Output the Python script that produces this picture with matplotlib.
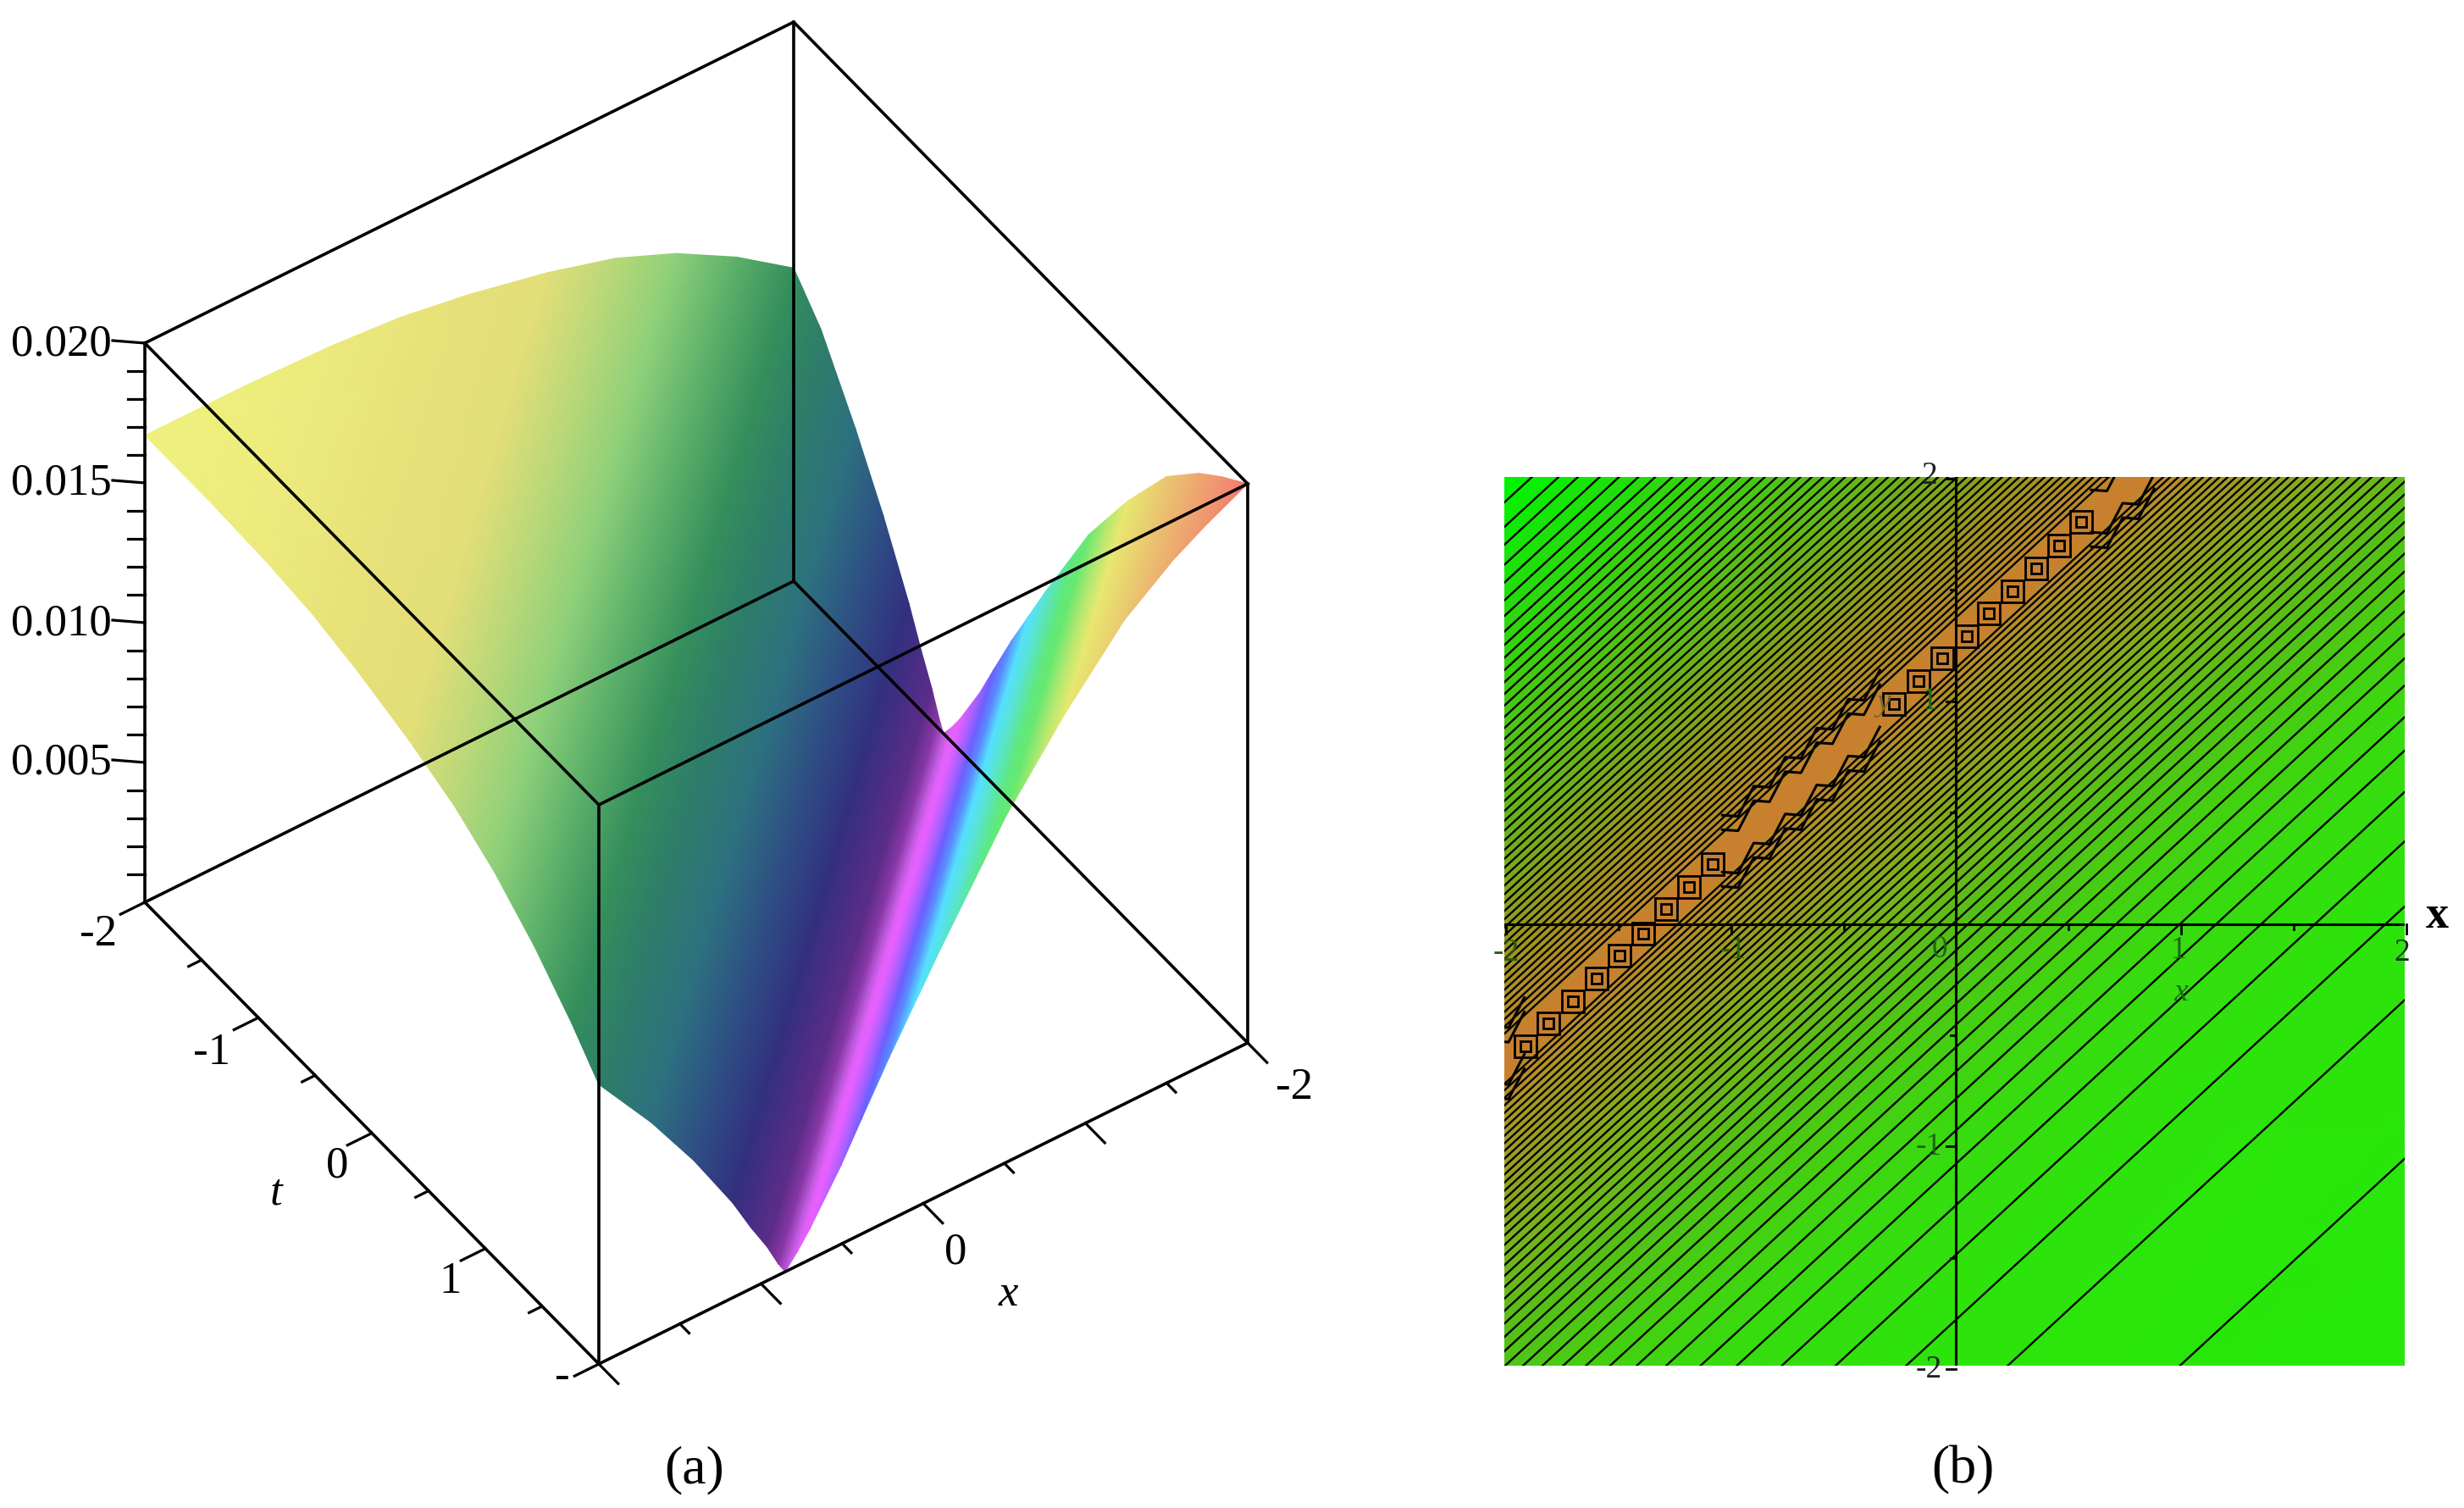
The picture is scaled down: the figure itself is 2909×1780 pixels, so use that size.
import matplotlib
matplotlib.use('Agg')
import matplotlib.pyplot as plt
import numpy as np
from matplotlib.colors import ListedColormap

plt.rcParams['font.family'] = ['Liberation Serif', 'DejaVu Serif']

# (a) surface, read across the valley line t = 0.94 x + 1.2
valley_slope = 0.94
valley_c = 1.2
surf_d = [-5.08, -4.5, -4.0, -3.6, -3.2, -2.75, -2.35, -2.0, -1.65, -1.32, -1.08, -0.775, -0.53, -0.305, -0.2, -0.104, -0.04,
          0.0, 0.07, 0.143, 0.322, 0.441, 0.6, 0.74, 0.9, 1.143, 1.28, 1.45, 1.62, 1.964, 2.25, 2.45, 2.68]
surf_z = [0.0167, 0.0167, 0.0166, 0.0164, 0.0160, 0.0154, 0.0147, 0.0138, 0.0126, 0.0112, 0.0100, 0.0077, 0.0056, 0.0034, 0.0022, 0.0012, 0.0004,
          0.0, 0.0005, 0.0011, 0.0028, 0.0041, 0.0058, 0.0072, 0.0088, 0.0111, 0.0124, 0.0137, 0.0150, 0.0173, 0.0186, 0.0193, 0.0200]
surf_col = ['#f0f07e', '#eeee7d', '#ecea7c', '#e9e57a', '#e6e078', '#e2de78', '#b8d878', '#8ed07a', '#5cb06a', '#358f5c', '#2e7f68', '#2d7080',
            '#2e4f84', '#33307f', '#4a2d86', '#5c2d88', '#8a38a8',
            '#b858d8', '#e060f8', '#e860ff', '#a060ff', '#6a60ff', '#5a90ff', '#55e0ff', '#58e4d8', '#60e880', '#68e870',
            '#b0e870', '#e8e870', '#eac870', '#eea870', '#f09470', '#f07870']

z_major = [0.005, 0.010, 0.015, 0.020]
z_labels = ['0.005', '0.010', '0.015', '0.020']
z_minor = [0.001, 0.002, 0.003, 0.004, 0.006, 0.007, 0.008, 0.009, 0.011, 0.012, 0.013, 0.014, 0.016, 0.017, 0.018, 0.019]
t_major = [-2, -1, 0, 1, 2]
t_minor = [-1.5, -0.5, 0.5, 1.5]
x_major = [-2, -1, 0, 1, 2]
x_minor = [-1.5, -0.5, 0.5, 1.5]

# (b) contour plot, lines y = slope x + c
contour_slope = 0.93
contour_low = [-2.908, -2.196, -1.776, -1.484, -1.262, -1.076, -0.926, -0.784, -0.662, -0.552, -0.452, -0.358, -0.272,
               -0.192, -0.118, -0.05, 0.014, 0.074, 0.131, 0.186, 0.238, 0.288, 0.336, 0.382, 0.427, 0.470, 0.512,
               0.553, 0.593, 0.632, 0.670, 0.707, 0.743, 0.779, 0.814, 0.849, 0.883, 0.917, 0.951, 0.985, 1.019,
               1.053, 1.087, 1.121, 1.15]
contour_high = [1.375, 1.407, 1.44, 1.473, 1.506, 1.539, 1.572, 1.606, 1.64, 1.675, 1.71, 1.745, 1.78, 1.816, 1.852,
                1.889, 1.926, 1.963, 2.001, 2.04, 2.08, 2.12, 2.16, 2.2, 2.243, 2.287, 2.331, 2.375, 2.42, 2.465, 2.51,
                2.556, 2.603, 2.65, 2.698, 2.747, 2.797, 2.848, 2.9, 2.953, 3.007, 3.063, 3.12, 3.18, 3.25, 3.32,
                3.40, 3.48, 3.57, 3.65, 3.76]
bg_c = [-5.0, -3.86, -1.8, -1.0, -0.5, 0.0, 0.4, 0.73, 1.0, 1.15, 1.2, 1.32, 1.38, 1.7, 2.2, 2.8, 3.3, 3.86, 5.0]
bg_col = ['#27e90a', '#27e90a', '#2de40b', '#38dc10', '#45d012', '#55c018', '#78b41c', '#98a020', '#ac9824', '#bf8a2a',
          '#c8802e', '#c8802e', '#bd8a2a', '#a0961f', '#6fb01a', '#48c814', '#25dc0c', '#00f500', '#00f500']

ring_x = [-1.915, -1.814, -1.704, -1.599, -1.497, -1.392, -1.29, -1.188, -1.083,
          -0.277, -0.168, -0.062, 0.047, 0.145, 0.25, 0.356, 0.458, 0.556]
ring_y = [-0.549, -0.447, -0.348, -0.245, -0.143, -0.044, 0.067, 0.165, 0.268,
          0.987, 1.089, 1.192, 1.291, 1.394, 1.492, 1.595, 1.698, 1.804]
zig_x1 = [-1.04, -0.97, -0.90, -0.83, -0.76, -0.69, -0.62, -0.55, -0.48, -0.41, -0.34]
zig_x2 = [0.60, 0.67, 0.74, 0.81, 0.88]
zig_x3 = [-2.06, -1.99, -1.92]
zig_off = [0.035, -0.035]
zig_pairs = [-0.16, -0.095, 0.095, 0.16]
ridge_c = 1.26


def clip_line(slope, c, lo=-2.0, hi=2.0):
    x0 = max(lo, (lo - c) / slope)
    x1 = min(hi, (hi - c) / slope)
    return x0, slope * x0 + c, x1, slope * x1 + c


def project(x, t, z):
    u = (2 - np.asarray(x, dtype=float)) / 4
    v = (np.asarray(t, dtype=float) + 2) / 4
    px = 171 + u * 766 + v * 536
    py = 1065 - u * 379 + v * 545 - np.asarray(z, dtype=float) / 0.02 * 660
    return px, py


fig = plt.figure(figsize=(29.09, 17.80), dpi=100)
ax = fig.add_axes([0, 0, 1, 1])
ax.set_xlim(0, 2909)
ax.set_ylim(1780, 0)
ax.axis('off')

# surface (a)
ends = [clip_line(valley_slope, valley_c + d) for d in surf_d]
sx = np.array([[e[0] for e in ends], [e[2] for e in ends]])
st = np.array([[e[1] for e in ends], [e[3] for e in ends]])
sz = np.array([surf_z, surf_z])
px, py = project(sx, st, sz)
idx = np.array([np.arange(len(surf_d)), np.arange(len(surf_d))])
ax.pcolormesh(px, py, idx, shading='gouraud', cmap=ListedColormap(surf_col), vmin=0, vmax=len(surf_d) - 1)

# box
corners = [(2, -2), (2, 2), (-2, 2), (-2, -2), (2, -2)]
for zz in (0, 0.02):
    xs, ys = project([c[0] for c in corners], [c[1] for c in corners], [zz] * 5)
    ax.plot(xs, ys, color='black', lw=2.6, solid_joinstyle='miter')
for c in corners[:4]:
    xs, ys = project([c[0], c[0]], [c[1], c[1]], [0, 0.02])
    ax.plot(xs, ys, color='black', lw=2.6)

# z ticks
for zz, lab in zip(z_major, z_labels):
    xs, ys = project([2, 2], [-2, -2], [zz, zz])
    ax.plot([xs[0] - 38, xs[0]], [ys[0] - 3, ys[0]], color='black', lw=2.3)
    ax.text(xs[0] - 39, ys[0] + 1, lab, ha='right', va='center', fontsize=38, color='black')
for zz in z_minor:
    xs, ys = project([2], [-2], [zz])
    ax.plot([xs[0] - 20, xs[0]], [ys[0], ys[0]], color='black', lw=2.3)

# t ticks, pointing along +x
for t in t_major + t_minor:
    f = 0.15 if t in t_major else 0.08
    xs, ys = project([2, 2 + f], [t, t], [0, 0])
    ax.plot(xs, ys, color='black', lw=2.3)
# x ticks, pointing along +t
for x in x_major + x_minor:
    f = 0.17 if x in x_major else 0.08
    xs, ys = project([x, x], [2, 2 + f], [0, 0])
    ax.plot(xs, ys, color='black', lw=2.3)

ax.text(116, 1103, '-2', ha='center', va='center', fontsize=38)
ax.text(250, 1243, '-1', ha='center', va='center', fontsize=38)
ax.text(398, 1376, '0', ha='center', va='center', fontsize=38)
ax.text(532, 1513, '1', ha='center', va='center', fontsize=38)
ax.text(326, 1408, 't', ha='center', va='center', fontsize=38, style='italic')
ax.text(664, 1626, '-', ha='center', va='center', fontsize=38)
ax.text(1128, 1479, '0', ha='center', va='center', fontsize=38)
ax.text(1190, 1528, 'x', ha='center', va='center', fontsize=38, style='italic')
ax.text(1528, 1284, '-2', ha='center', va='center', fontsize=38)

ax.text(820, 1735, '(a)', ha='center', va='center', fontsize=46)
ax.text(2317, 1735, '(b)', ha='center', va='center', fontsize=46)
ax.text(2877, 1082, 'x', ha='center', va='center', fontsize=39, fontweight='bold')

# panel (b), axes in data units
bx = fig.add_axes([1776 / 2909, 1 - 1612 / 1780, (2839 - 1776) / 2909, (1612 - 563) / 1780])
bx.set_xlim(-2.009, 1.994)
bx.set_ylim(-1.983, 2.006)
bx.axis('off')

gx = np.array([[-3.0] * len(bg_c), [3.0] * len(bg_c)])
gy = contour_slope * gx + np.array([bg_c, bg_c])
gi = np.array([np.arange(len(bg_c)), np.arange(len(bg_c))])
bx.pcolormesh(gx, gy, gi, shading='gouraud', cmap=ListedColormap(bg_col), vmin=0, vmax=len(bg_c) - 1)

line_x = np.array([-3.0, 3.0])
for c in contour_low + contour_high:
    bx.plot(line_x, contour_slope * line_x + c, color='black', lw=1.7)

# wavy part of the ridge
for zx in (zig_x1, zig_x2, zig_x3):
    xs = np.array(zx)
    wob = np.array([zig_off[i % 2] for i in range(len(zx))])
    for off in zig_pairs:
        bx.plot(xs, contour_slope * xs + ridge_c + off + wob, color='black', lw=2.2)

# rings along the ridge
bx.plot(ring_x, ring_y, ls='none', marker='s', ms=19, mfc='none', mec='black', mew=2.0)
bx.plot(ring_x, ring_y, ls='none', marker='s', ms=9, mfc='none', mec='black', mew=2.0)

# axes lines
bx.axhline(0, color='black', lw=2.2)
bx.axvline(0, color='black', lw=2.2)
for x in [-2, -1, 1, 2]:
    bx.plot([x, x], [0, -0.045], color='black', lw=2.0, clip_on=False)
for x in [-1.5, -0.5, 0.5, 1.5]:
    bx.plot([x, x], [0, -0.025], color='black', lw=2.0, clip_on=False)
for y in [-2, -1, 1, 2]:
    bx.plot([-0.045, 0], [y, y], color='black', lw=2.0, clip_on=False)
for y in [-1.5, -0.5, 0.5, 1.5]:
    bx.plot([-0.025, 0], [y, y], color='black', lw=2.0, clip_on=False)

label_green = '#1c6a14'
for x, y, s, col in [(-2.0, -0.13, '-2', '#2a5a10'), (-0.99, -0.12, '-1', label_green), (-0.075, -0.115, '0', label_green),
                     (0.99, -0.12, '1', label_green), (1.98, -0.13, '2', '#14341c'),
                     (-0.12, -2.0, '-2', '#222222'), (-0.12, -1.0, '-1', label_green),
                     (-0.12, 1.0, '1', label_green), (-0.12, 2.01, '2', '#222222')]:
    bx.text(x, y, s, ha='center', va='center', fontsize=27, color=col, clip_on=False)
bx.text(1.0, -0.31, 'x', ha='center', va='center', fontsize=27, style='italic', color=label_green)
bx.text(-0.325, 0.99, 'y', ha='center', va='center', fontsize=27, style='italic', color='#7a6a20')

fig.savefig('out.png', dpi=100, facecolor='white')
